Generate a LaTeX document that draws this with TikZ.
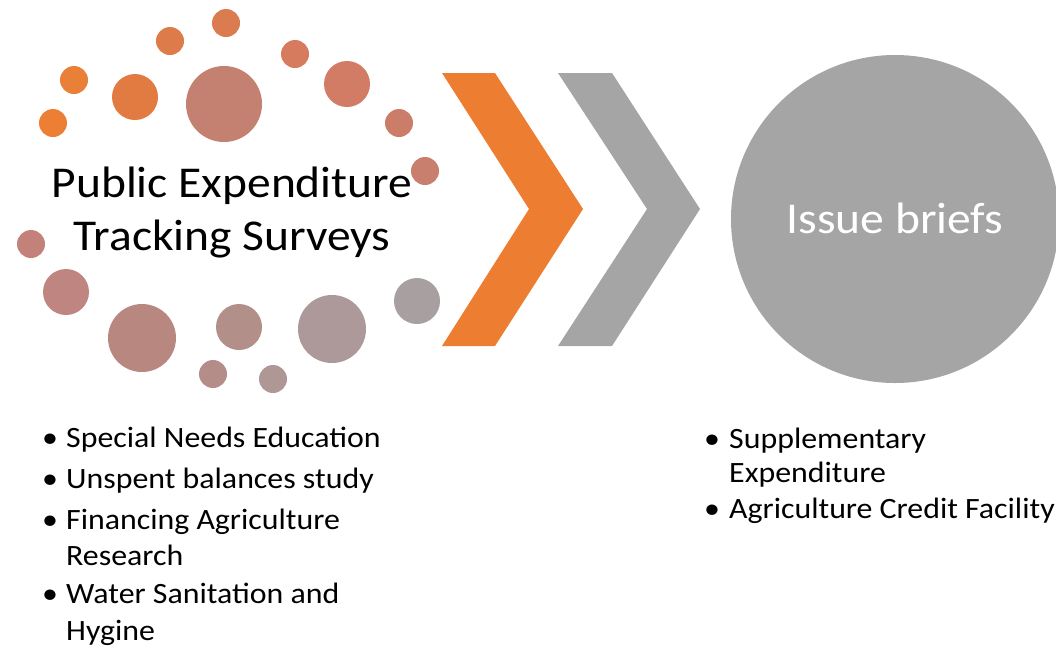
\documentclass[tikz,border=0pt]{standalone}
\usepackage{fontspec}
\setmainfont[FakeStretch=1.08]{Carlito}
\begin{document}
\begin{tikzpicture}[x=1pt,y=-1pt,
  item/.style={anchor=base west,inner sep=0pt,font=\fontsize{29.5}{34}\selectfont},
  bul/.style={anchor=base,inner sep=0pt,font=\fontsize{29.5}{34}\selectfont},
  big/.style={anchor=base,inner sep=0pt,font=\fontsize{44}{53}\selectfont}]
\useasboundingbox (0,0) rectangle (1056,649);
\definecolor{cA}{HTML}{ED7D31}
\definecolor{cGrey}{HTML}{A5A5A5}
% dots
\foreach \x/\y/\r/\c in {
 53/123/14/EC7F33,
 74/80/14/E98038,
 135/97/23/E27B42,
 170/41/14/DE7B4A,
 226/23/14/DB7B50,
 224/104/38/C48070,
 295/54/14/D67B5E,
 347/84/23/D27C66,
 399/123/14/CC7D6A,
 425/171/14/C87F6E,
 31/244/14/C2827A,
 66/292/23/BF8580,
 142/338/34/B88880,
 239/327/23/B38F8A,
 332/329/34/AD9999,
 417/301/23/A8A0A0,
 213/374/14/B48D89,
 273/379/14/AF9796}{
  \definecolor{tmp}{HTML}{\c}
  \fill[tmp] (\x,\y) circle[radius=\r];
}
\node[big] (t1) at (232,197) {Public Expenditure};
\node[big] (t2) at (232,250) {Tracking Surveys};
% chevrons
\fill[cA] (442,73) -- (495,73) -- (583,209) -- (495,346) -- (442,346) -- (529,209) -- cycle;
\fill[cGrey] (558,73) -- (612,73) -- (700,209) -- (612,346) -- (558,346) -- (647,209) -- cycle;
% circle
\node[circle,fill=cGrey,minimum size=328pt,inner sep=0pt] (ib) at (895,219) {};
\node[big,text=white] (ibt) at (895,233) {Issue briefs};
% left list
\node[bul] (b1) at (50,447) {•};
\node[item] (l1) at (66,447) {Special Needs Education};
\node[bul] (b2) at (50,488) {•};
\node[item] (l2) at (66,488) {Unspent balances study};
\node[bul] (b3) at (50,529) {•};
\node[item] (l3) at (66,529) {Financing Agriculture};
\node[item] (l3b) at (66,565) {Research};
\node[bul] (b4) at (50,603) {•};
\node[item] (l4) at (66,603) {Water Sanitation and};
\node[item] (l4b) at (66,640) {Hygine};
% right list
\node[bul] (rb1) at (712,448) {•};
\node[item] (r1) at (729,448) {Supplementary};
\node[item] (r1b) at (729,482) {Expenditure};
\node[bul] (rb2) at (712,518) {•};
\node[item] (r2) at (729,518) {Agriculture Credit Facility};
\end{tikzpicture}
\end{document}
